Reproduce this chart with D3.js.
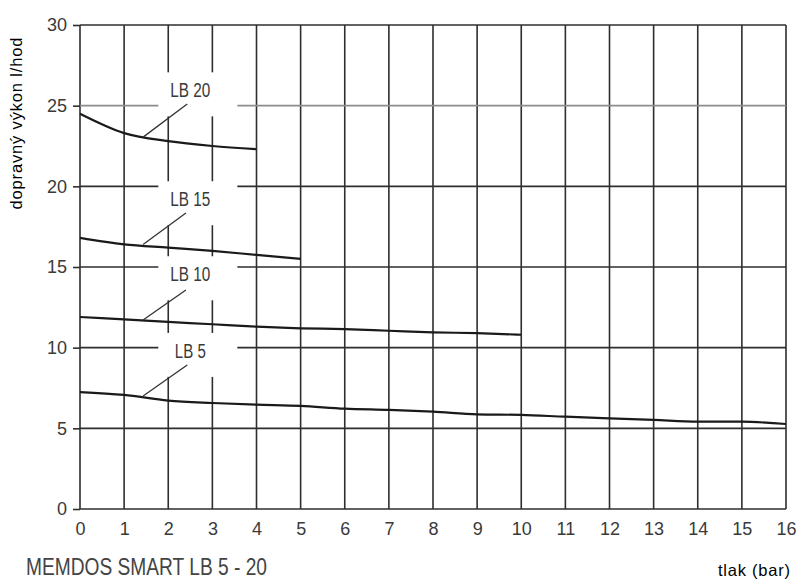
<!DOCTYPE html>
<html>
<head>
<meta charset="utf-8">
<script src="https://cdn.jsdelivr.net/npm/d3@7/dist/d3.min.js"></script>
<style>
  html, body { margin: 0; padding: 0; background: #fff; }
  svg { display: block; }
</style>
</head>
<body>
<svg id="chart" width="798" height="581"></svg>
<script>
// ---- data ----
const xTicks = [0,1,2,3,4,5,6,7,8,9,10,11,12,13,14,15,16];
const yTicks = [0,5,10,15,20,25,30];

const seriesNames = ["LB 20", "LB 15", "LB 10", "LB 5"];
const lb20 = [24.5, 23.3, 22.8, 22.5, 22.3];
const lb15 = [16.8, 16.4, 16.2, 16.0, 15.75, 15.5];
const lb10 = [11.9, 11.75, 11.6, 11.45, 11.3, 11.2, 11.15, 11.05, 10.95, 10.9, 10.8];
const lb5  = [7.25, 7.07, 6.72, 6.57, 6.47, 6.39, 6.22, 6.14, 6.03, 5.87, 5.83, 5.72, 5.62, 5.52, 5.41, 5.41, 5.27];

// label anchor (pressure, flow) and leader line start/end in data units
const labelX = [2.5, 2.5, 2.5, 2.5];
const labelY = [25.95, 19.2, 14.55, 9.8];
const leaderFrom = [[2.43, 25.1], [2.4, 18.35], [2.4, 13.58], [2.43, 8.93]];
const leaderTo   = [[1.43, 23.05], [1.43, 16.4], [1.43, 11.72], [1.43, 7.0]];

const yTitle = "dopravný výkon l/hod";
const xTitle = "tlak (bar)";
const chartTitle = "MEMDOS SMART LB 5 - 20";

// ---- scales ----
const x = d3.scaleLinear().domain([0, 16]).range([80, 786]);
const y = d3.scaleLinear().domain([0, 30]).range([509, 25]);

const svg = d3.select("#chart");
const gridColor = "#2e2e2e";

// grid: vertical
svg.append("g").selectAll("line").data(xTicks).join("line")
  .attr("x1", d => x(d)).attr("x2", d => x(d))
  .attr("y1", y(0)).attr("y2", y(30))
  .attr("stroke", gridColor).attr("stroke-width", 1.6);

// grid: horizontal
svg.append("g").selectAll("line").data(yTicks).join("line")
  .attr("x1", x(0)).attr("x2", x(16))
  .attr("y1", d => y(d)).attr("y2", d => y(d))
  .attr("stroke", d => d === 25 ? "#8c8c8c" : gridColor)
  .attr("stroke-width", d => d === 25 ? 1.8 : 1.6);

// y axis ticks and labels
const yAxis = svg.append("g").attr("transform", `translate(${x(0)},0)`)
  .call(d3.axisLeft(y).tickValues(yTicks).tickSize(7).tickPadding(6).tickFormat(d3.format("d")));
yAxis.select(".domain").remove();
yAxis.selectAll(".tick line").attr("stroke", gridColor).attr("stroke-width", 1.6);
yAxis.selectAll(".tick text")
  .attr("font-family", "Liberation Sans, Arial, sans-serif")
  .attr("font-size", 18).attr("fill", "#3a3a3a");

// x axis labels
const xAxis = svg.append("g").attr("transform", `translate(0,${y(0)})`)
  .call(d3.axisBottom(x).tickValues(xTicks).tickSize(0).tickPadding(13).tickFormat(d3.format("d")));
xAxis.select(".domain").remove();
xAxis.selectAll(".tick text")
  .attr("font-family", "Liberation Sans, Arial, sans-serif")
  .attr("font-size", 18).attr("fill", "#3a3a3a");

// label boxes (white masks over the grid)
const labelG = svg.append("g");
seriesNames.forEach((name, i) => {
  const cx = x(labelX[i]), cy = y(labelY[i]);
  labelG.append("rect")
    .attr("x", cx - 32).attr("y", cy - 18)
    .attr("width", 79).attr("height", 44)
    .attr("fill", "#fff");
});

// curves
const allSeries = [lb20, lb15, lb10, lb5];
const line = d3.line().x((d, i) => x(xTicks[i])).y(d => y(d)).curve(d3.curveMonotoneX);
svg.append("g").selectAll("path").data(allSeries).join("path")
  .attr("d", d => line(d))
  .attr("fill", "none").attr("stroke", "#1a1a1a").attr("stroke-width", 2.2)
  .attr("stroke-linejoin", "round");

// leader lines
svg.append("g").selectAll("line").data(seriesNames).join("line")
  .attr("x1", (d, i) => x(leaderFrom[i][0])).attr("y1", (d, i) => y(leaderFrom[i][1]))
  .attr("x2", (d, i) => x(leaderTo[i][0])).attr("y2", (d, i) => y(leaderTo[i][1]))
  .attr("stroke", "#333").attr("stroke-width", 1.3);

// series labels
seriesNames.forEach((name, i) => {
  labelG.append("text")
    .attr("x", x(labelX[i])).attr("y", y(labelY[i]) + 7)
    .attr("text-anchor", "middle")
    .attr("font-family", "Liberation Sans, Arial, sans-serif")
    .attr("font-size", 20).attr("fill", "#3a3a3a")
    .attr("textLength", name.length === 4 ? 31 : 40)
    .attr("lengthAdjust", "spacingAndGlyphs")
    .text(name);
});

// y title
svg.append("text")
  .attr("transform", `translate(22,${123.5}) rotate(-90)`)
  .attr("text-anchor", "middle")
  .attr("font-family", "Liberation Sans, Arial, sans-serif")
  .attr("font-size", 16.5).attr("fill", "#000")
  .attr("textLength", 172).attr("lengthAdjust", "spacing")
  .text(yTitle);

// x title
svg.append("text")
  .attr("x", 718).attr("y", 576)
  .attr("font-family", "Liberation Sans, Arial, sans-serif")
  .attr("font-size", 16.5).attr("fill", "#000")
  .attr("textLength", 72).attr("lengthAdjust", "spacing")
  .text(xTitle);

// chart title
svg.append("text")
  .attr("x", 26).attr("y", 575)
  .attr("font-family", "Liberation Sans, Arial, sans-serif")
  .attr("font-size", 23).attr("fill", "#444")
  .attr("textLength", 241).attr("lengthAdjust", "spacingAndGlyphs")
  .text(chartTitle);
</script>
</body>
</html>
